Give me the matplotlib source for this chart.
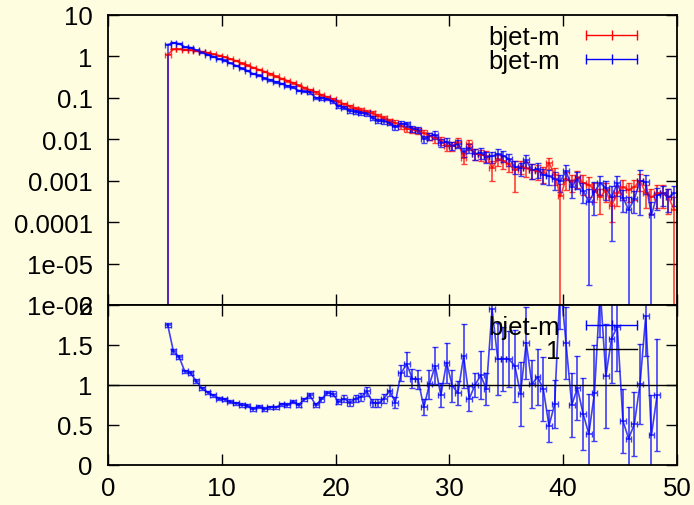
import numpy as np
import matplotlib
matplotlib.use("Agg")
import matplotlib.pyplot as plt
from matplotlib.lines import Line2D

plt.rcParams['font.family'] = ['Liberation Sans', 'DejaVu Sans']

#bin centres, 0.5 wide bins starting at 5
x = 5.25 + 0.5 * np.arange(90)

#top panel: two distributions of bjet-m (log scale)
red = [1.10, 1.50, 1.50, 1.45, 1.42, 1.36, 1.30, 1.22, 1.14, 1.05,
       0.97, 0.87, 0.78, 0.69, 0.61, 0.54, 0.48, 0.43, 0.38, 0.33,
       0.29, 0.26, 0.23, 0.20, 0.175, 0.155, 0.135, 0.118, 0.104, 0.092,
       0.080, 0.070, 0.062, 0.055, 0.050, 0.046, 0.042, 0.036, 0.032, 0.027,
       0.025, 0.021, 0.018, 0.017, 0.016, 0.014, 0.012, 0.0105, 0.0095, 0.0068,
       0.0070, 0.0085, 0.0036, 0.0075, 0.0045, 0.0042, 0.0040, 0.0020, 0.0033, 0.0030,
       0.0025, 0.0018, 0.0022, 0.0020, 0.0018, 0.0017, 0.0015, 0.0027, 0.0014, 0.00042,
       0.0011, 0.00095, 0.0012, 0.0009, 0.0008, 0.0006, 0.0004, 0.0006, 0.00025, 0.0005,
       0.0007, 0.0006, 0.0007, 0.0010, 0.0005, 0.0004, 0.0005, 0.0005, 0.0004, 0.0002]
red_rel = [.03, .02, .02, .02, .02, .02, .02, .02, .02, .02,
           .02, .02, .03, .03, .03, .03, .03, .03, .04, .04,
           .04, .05, .05, .05, .06, .06, .07, .07, .08, .08,
           .09, .10, .10, .11, .11, .12, .12, .13, .14, .15,
           .15, .16, .17, .18, .18, .20, .20, .22, .22, .25,
           .25, .25, .30, .25, .30, .30, .30, .50, .30, .35,
           .35, .70, .35, .40, .40, .40, .40, .30, .45, 1.0,
           .45, .45, .45, .50, .50, .50, .60, .50, .60, .50,
           .50, .50, .50, .45, .55, .60, .55, .55, .60, 1.0]

blue = [1.93, 2.13, 2.03, 1.70, 1.63, 1.43, 1.25, 1.11, 0.99, 0.87,
        0.80, 0.69, 0.60, 0.52, 0.45, 0.38, 0.35, 0.30, 0.27, 0.24,
        0.22, 0.195, 0.18, 0.15, 0.143, 0.135, 0.101, 0.097, 0.094, 0.082,
        0.063, 0.058, 0.048, 0.046, 0.0425, 0.042, 0.033, 0.028, 0.027, 0.025,
        0.0195, 0.024, 0.023, 0.018, 0.017, 0.010, 0.012, 0.013, 0.0083, 0.0087,
        0.0069, 0.0077, 0.0049, 0.0062, 0.0045, 0.0047, 0.0038, 0.0039, 0.0044, 0.0040,
        0.0033, 0.0022, 0.0020, 0.0031, 0.0018, 0.0019, 0.0014, 0.0013, 0.0011, 0.00097,
        0.0017, 0.0007, 0.00115, 0.00058, 0.00031, 0.00054, 0.00088, 0.00067, 0.0004, 0.00087,
        0.00039, 0.0002, 0.00036, 0.0010, 0.00093, 0.00015, 0.00044, 0.0005, 0.0004, 0.0005]
blue_rel = [.02, .02, .02, .02, .02, .02, .02, .02, .02, .02,
            .02, .02, .02, .03, .03, .03, .03, .03, .04, .04,
            .04, .04, .05, .05, .05, .06, .06, .07, .07, .08,
            .08, .09, .10, .10, .11, .11, .12, .12, .13, .13,
            .14, .15, .15, .16, .17, .18, .18, .20, .20, .22,
            .22, .22, .25, .25, .28, .28, .30, .30, .30, .30,
            .32, .35, .35, .35, .40, .40, .40, .40, .45, .45,
            .40, .45, .45, .50, .99, .72, .50, .50, .91, .50,
            .55, 1.0, .55, .85, .50, 1.0, .55, .50, .55, .50]

#first bin has its lower bar reaching zero in both series
to_zero = [0]

#bottom panel: ratio
ratio = [1.75, 1.42, 1.35, 1.17, 1.15, 1.05, 0.96, 0.91, 0.87, 0.83,
         0.82, 0.79, 0.77, 0.75, 0.74, 0.70, 0.73, 0.70, 0.72, 0.72,
         0.76, 0.75, 0.79, 0.75, 0.82, 0.87, 0.75, 0.82, 0.90, 0.89,
         0.79, 0.83, 0.78, 0.83, 0.85, 0.92, 0.78, 0.77, 0.83, 0.93,
         0.78, 1.15, 1.26, 1.08, 1.07, 0.72, 1.01, 1.24, 0.87, 1.28,
         0.99, 0.90, 1.36, 0.83, 1.00, 1.12, 0.95, 1.95, 1.32, 1.33,
         1.32, 1.24, 0.89, 1.53, 1.01, 1.10, 0.95, 0.49, 0.76, 2.30,
         1.52, 0.75, 0.96, 0.64, 0.39, 0.90, 2.20, 1.11, 1.58, 1.73,
         0.55, 0.33, 0.51, 1.01, 1.86, 0.37, 0.87]
ratio_err = [.03, .03, .03, .02, .02, .02, .02, .02, .02, .02,
             .02, .02, .02, .02, .02, .02, .02, .02, .02, .02,
             .02, .02, .02, .02, .02, .03, .03, .03, .03, .03,
             .03, .04, .04, .04, .05, .06, .05, .05, .06, .07,
             .07, .10, .15, .12, .12, .10, .18, .23, .15, .25,
             .20, .15, .40, .16, .15, .30, .20, .50, .45, .40,
             .35, .45, .40, .45, .30, .35, .40, .20, .30, .60,
             .45, .40, .40, .45, .50, .60, .60, .65, .55, .55,
             .40, .40, .40, .50, .50, .50, .70]

log_ticks = [1e-6, 1e-5, 1e-4, 1e-3, 1e-2, 1e-1, 1, 10]
log_labels = ['1e-06', '1e-05', '0.0001', '0.001', '0.01', '0.1', '1', '10']
ratio_ticks = [0, 0.5, 1, 1.5, 2]
ratio_labels = ['0', '0.5', '1', '1.5', '2']
x_ticks = [0, 10, 20, 30, 40, 50]

bg = '#fffde0'
fs = 18.5

fig = plt.figure(figsize=(6.94, 5.06), dpi=100, facecolor=bg)
ax1 = fig.add_axes([108/694, 1-306/506, 569/694, 290/506], facecolor=bg)
ax2 = fig.add_axes([108/694, 1-466/506, 569/694, 160/506], facecolor=bg)


def yerrs(vals, rel):
    vals = np.array(vals)
    lo = vals * np.minimum(rel, 1.0)
    hi = vals * np.array(rel)
    for i in to_zero:
        lo[i] = vals[i]
    return vals, [lo, hi]


for vals, rel, col in [(red, red_rel, '#ff0000'), (blue, blue_rel, '#0000ff')]:
    v, err = yerrs(vals, rel)
    ax1.errorbar(x, v, xerr=0.25, yerr=err, fmt='-', color=col, lw=1.2,
                 elinewidth=1.2, capsize=2.5, alpha=0.75)

ax1.set_yscale('log', nonpositive='clip')
ax1.set_ylim(1e-6, 10)
ax1.set_xlim(0, 50)
ax1.set_yticks(log_ticks)
ax1.set_yticklabels(log_labels)
ax1.set_xticks(x_ticks)
ax1.set_xticklabels([])

n = len(ratio)
ax2.errorbar(x[:n], ratio, xerr=0.25, yerr=ratio_err, fmt='-', color='#0000ff',
             lw=1.2, elinewidth=1.2, capsize=2.5, alpha=0.75)
ax2.axhline(1, color='black', lw=1)
ax2.set_xlim(0, 50)
ax2.set_ylim(0, 2)
ax2.set_yticks(ratio_ticks)
ax2.set_yticklabels(ratio_labels)
ax2.set_xticks(x_ticks)
ax2.set_xticklabels([str(t) for t in x_ticks])

for ax in (ax1, ax2):
    ax.tick_params(which='major', direction='in', length=8, width=1,
                   top=True, right=True, labelsize=fs, pad=11)
    ax.tick_params(which='minor', direction='in', length=4, width=1,
                   top=True, right=True)
    ax.tick_params(axis='x', pad=8)
    for s in ax.spines.values():
        s.set_linewidth(1.3)

# legends
h_red = Line2D([], [], color='#ff0000', lw=1, marker='|', markersize=7)
h_blue = Line2D([], [], color='#0000ff', lw=1, marker='|', markersize=7)
h_one = Line2D([], [], color='black', lw=1)

leg_kw = dict(loc='upper right', frameon=False, markerfirst=False, numpoints=3,
              fontsize=fs, borderpad=0, borderaxespad=0, handlelength=2.6,
              handletextpad=0.7, labelspacing=0.0)
ax1.legend([h_red, h_blue], ['bjet-m', 'bjet-m'],
           bbox_to_anchor=(0.944, 0.965), **leg_kw)
ax2.legend([h_blue, h_one], ['bjet-m', '1'],
           bbox_to_anchor=(0.944, 0.94), **leg_kw)

fig.savefig('out.png', dpi=100, facecolor=bg)
